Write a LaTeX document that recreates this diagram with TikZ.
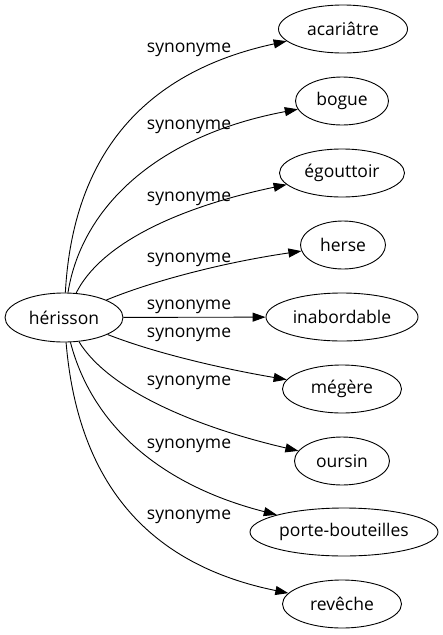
\documentclass[tikz,border=0pt]{standalone}
\usepackage{fontspec}
\setmainfont{Open Sans}
\usetikzlibrary{shapes.geometric,arrows.meta}
\begin{document}
\begin{tikzpicture}[x=1pt,y=-1pt,
  word/.style={ellipse,draw,line width=0.9pt,minimum height=48pt,inner sep=0pt,font=\fontsize{17.5}{20}\selectfont},
  rel/.style={draw,line width=0.9pt,-{Triangle[length=13pt,width=9pt]}},
  lbl/.style={font=\fontsize{17.5}{20}\selectfont,inner sep=0pt}]
\useasboundingbox (0,0) rectangle (443,635);
\node[word,minimum width=118pt,minimum height=49pt] (h) at (64,317.5) {hérisson};
\node[word,minimum width=129pt] (a) at (343,29) {acariâtre};
\node[word,minimum width=93pt] (b) at (342,101) {bogue};
\node[word,minimum width=125pt] (e) at (342,173) {égouttoir};
\node[word,minimum width=85pt] (hs) at (343,245) {herse};
\node[word,minimum width=152pt] (i) at (342,317) {inabordable};
\node[word,minimum width=119pt] (m) at (342,389) {mégère};
\node[word,minimum width=95pt] (o) at (342,461) {oursin};
\node[word,minimum width=188pt] (p) at (344,532) {porte-bouteilles};
\node[word,minimum width=119pt] (r) at (342,604) {revêche};
\draw[rel] (h) .. controls (72,170) and (130,75) .. (a);
\draw[rel] (h) .. controls (82,205) and (160,135) .. (b);
\draw[rel] (h) .. controls (100,245) and (175,208) .. (e);
\draw[rel] (h) .. controls (150,282) and (220,263) .. (hs);
\draw[rel] (h) -- (i);
\draw[rel] (h) .. controls (160,355) and (230,370) .. (m);
\draw[rel] (h) .. controls (110,392) and (200,428) .. (o);
\draw[rel] (h) .. controls (92,425) and (160,485) .. (p);
\draw[rel] (h) .. controls (78,485) and (150,565) .. (r);
\node[lbl] (l1) at (189,49.5) {synonyme};
\node[lbl] (l2) at (189,127) {synonyme};
\node[lbl] (l3) at (189,199) {synonyme};
\node[lbl] (l4) at (189,260) {synonyme};
\node[lbl] (l5) at (189,307) {synonyme};
\node[lbl] (l6) at (189,335) {synonyme};
\node[lbl] (l7) at (189,383) {synonyme};
\node[lbl] (l8) at (189,446) {synonyme};
\node[lbl] (l9) at (189,517) {synonyme};
\end{tikzpicture}
\end{document}
